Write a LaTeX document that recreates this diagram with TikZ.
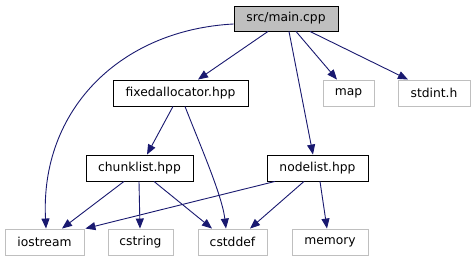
\documentclass[tikz,border=0pt]{standalone}
\usepackage{fontspec}
\setmainfont{DejaVu Sans}
\usetikzlibrary{arrows.meta}
\definecolor{edgeblue}{HTML}{191970}
\definecolor{extgray}{HTML}{BFBFBF}
\begin{document}
\begin{tikzpicture}[x=1pt,y=-1pt,
  box/.style={draw=black,line width=0.9pt,rectangle,inner sep=0pt,
    minimum height=26pt,font=\fontsize{12.3}{14}\selectfont},
  rootbox/.style={box,fill=extgray},
  extbox/.style={box,draw=extgray},
  dep/.style={draw=edgeblue,line width=0.9pt,
    -{Triangle[length=10pt,width=8pt]}}]
\useasboundingbox[fill=white] (0,0) rectangle (475,261);

% headers
\node[rootbox,minimum width=104pt,minimum height=25pt] (main) at (286,18.5) {src/main.cpp};
\node[box,minimum width=135pt] (fixed) at (180.5,93) {fixedallocator.hpp};
\node[extbox,minimum width=51pt] (map) at (348.5,93) {map};
\node[extbox,minimum width=72pt] (stdint) at (434,93) {stdint.h};
\node[box,minimum width=107pt] (chunk) at (139.5,168) {chunklist.hpp};
\node[box,minimum width=101pt] (nodel) at (317.5,168) {nodelist.hpp};
\node[extbox,minimum width=79pt] (iostream) at (44.5,242) {iostream};
\node[extbox,minimum width=65pt] (cstring) at (140.5,242) {cstring};
\node[extbox,minimum width=69pt] (cstddef) at (232.5,242) {cstddef};
\node[extbox,minimum width=76pt] (memory) at (330,242) {memory};

% include edges
\draw[dep] ([yshift=-5.5pt]main.west) .. controls (120,30) and (40,110) .. ([xshift=1.5pt]iostream.north);
\draw[dep] ([xshift=-18pt]main.south) -- ([xshift=17.5pt]fixed.north);
\draw[dep] ([xshift=3pt]main.south) -- ([xshift=-4.5pt]nodel.north);
\draw[dep] ([xshift=10pt]main.south) -- ([xshift=-11.5pt]map.north);
\draw[dep] ([xshift=24pt]main.south) -- ([xshift=-26pt]stdint.north);

\draw[dep] ([xshift=-7.5pt]fixed.south) -- ([xshift=7.5pt]chunk.north);
\draw[dep] ([xshift=4.5pt]fixed.south) .. controls (200,145) and (222,195) .. ([xshift=-6.5pt]cstddef.north);

\draw[dep] ([xshift=-15.5pt]chunk.south) -- ([xshift=17.5pt]iostream.north);
\draw[dep] ([xshift=-0.5pt]chunk.south) -- ([xshift=-0.5pt]cstring.north);
\draw[dep] ([xshift=14.5pt]chunk.south) -- ([xshift=-20.5pt]cstddef.north);

\draw[dep] ([xshift=-42.5pt]nodel.south) -- ([xshift=1pt]iostream.north east);
\draw[dep] ([xshift=-13.5pt]nodel.south) -- ([xshift=17.5pt]cstddef.north);
\draw[dep] ([xshift=2.5pt]nodel.south) -- ([xshift=-3pt]memory.north);
\end{tikzpicture}
\end{document}
